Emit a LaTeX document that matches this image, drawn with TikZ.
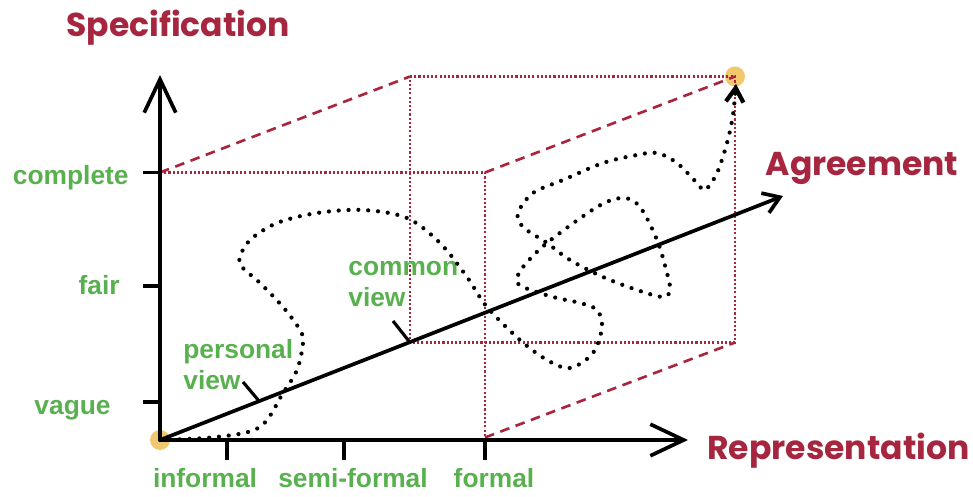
\documentclass[tikz,border=0pt]{standalone}
\usepackage{fontspec}
\setmainfont{Liberation Sans}
\newfontfamily\titlefont{Poppins}
\usetikzlibrary{arrows.meta, positioning, calc}
\definecolor{myred}{RGB}{166,38,64}
\definecolor{mygreen}{RGB}{88,176,78}
\definecolor{mydotred}{RGB}{170,36,60}
\definecolor{myorange}{RGB}{242,200,110}
\tikzset{
  axisline/.style={line width=2.1pt, -{Straight Barb[length=19pt, width=18pt]}},
  agreeline/.style={line width=2.1pt, -{Straight Barb[length=9pt, width=12pt]}},
  tickline/.style={line width=2.1pt},
  pointer/.style={line width=1.8pt},
  glabel/.style={text=mygreen, font=\fontsize{15}{17.5}\selectfont\bfseries,
    align=left, inner sep=0pt},
  axtitle/.style={text=myred, font=\titlefont\fontsize{18.8}{22}\selectfont\bfseries,
    inner sep=0pt},
  boxdot/.style={draw=mydotred, line width=1.5pt, dash pattern=on 1.2pt off 1.2pt},
  boxdash/.style={draw=mydotred, line width=1.5pt, dash pattern=on 5.5pt off 3.8pt},
  trail/.style={line width=2.4pt, line cap=round, dash pattern=on 0pt off 5.6pt,
    -{Straight Barb[length=8pt, width=10pt]}},
  marker/.style={circle, fill=myorange, minimum size=0.4cm, inner sep=0pt}
}
\begin{document}
\begin{tikzpicture}[node distance=1cm]
  \useasboundingbox (-3.2,-1.14) rectangle (16.26,8.8);

  % corners of the cube
  \coordinate (ftl) at (0,5.35);
  \coordinate (ftr) at (6.5,5.35);
  \coordinate (fbr) at (6.5,0.05);
  \coordinate (btl) at (5.0,7.27);
  \coordinate (btr) at (11.5,7.27);
  \coordinate (bbr) at (11.5,1.95);
  \coordinate (bbl) at (5.0,1.95);

  \node [marker] (o) at (0,0) {};
  \node [marker] (goal) at (btr) {};

  \draw [boxdot] (ftl) -- (ftr) -- (fbr);
  \draw [boxdot] (btl) -- (btr) -- (bbr) -- (bbl) -- cycle;
  \draw [boxdash] (ftl) -- (btl);
  \draw [boxdash] (ftr) -- (btr);
  \draw [boxdash] (fbr) -- (bbr);

  % axes
  \coordinate (ytop) at (0,7.3);
  \coordinate (xend) at (10.56,0);
  \coordinate (zend) at (12.46,4.88);
  \draw [axisline] (o.center) -- (ytop);
  \draw [axisline] (o.center) -- (xend);
  \draw [agreeline] (o.center) -- (zend);

  \foreach \y in {5.35,3.08,0.76}
    \draw [tickline] (0,\y) -- (-0.34,\y);
  \foreach \x in {1.34,3.68,6.5}
    \draw [tickline] (\x,0) -- (\x,-0.4);

  \node [glabel, anchor=east] (complete) at (-0.62,5.24) {complete};
  \node [glabel, anchor=east] (fair) at (-0.8,3.1) {fair};
  \node [glabel, anchor=east] (vague) at (-0.98,0.6) {vague};
  \node [glabel] (informal) at (0.9,-0.76) {informal};
  \node [glabel] (semiformal) at (3.86,-0.76) {semi-formal};
  \node [glabel] (formal) at (6.68,-0.76) {formal};

  \node [axtitle] (spec) at (0.36,8.24) {Specification};
  \node [axtitle] (agree) at (14.04,5.44) {Agreement};
  \node [axtitle, right=0.38cm of xend, yshift=-0.22cm] (repr) {Representation};

  % views
  \node [glabel, anchor=north west] (pview) at (0.46,2.02) {personal\\view};
  \node [glabel, anchor=north west] (cview) at (3.76,3.58) {common\\view};
  \coordinate (ptail) at (1.66,1.16);
  \coordinate (phead) at (1.98,0.78);
  \coordinate (ctail) at (4.66,2.38);
  \draw [pointer] (ptail) -- (phead);
  \draw [pointer] (ctail) -- (bbl);

  % path of the agreement
  \draw [trail] plot [smooth, tension=0.55] coordinates {
    (o.center) (1.14,0.06) (2.0,0.26) (2.46,0.94) (2.74,1.4) (2.86,1.94)
    (2.8,2.2) (2.46,2.66) (2.0,3.14) (1.64,3.46) (1.6,3.66) (1.8,4.0)
    (2.34,4.34) (3.14,4.54) (4.06,4.6) (4.94,4.44) (5.6,3.94) (6.14,3.26)
    (6.54,2.66) (7.2,2.0) (7.74,1.6) (8.2,1.44) (8.66,1.74) (8.84,2.26)
    (8.74,2.6) (8.4,2.74) (7.86,2.86) (7.26,3.06) (7.14,3.2) (7.26,3.46)
    (7.74,3.94) (8.74,4.66) (9.26,4.84) (9.6,4.66) (9.94,4.0) (10.14,3.34)
    (10.2,3.0) (10.06,2.86) (9.54,3.0) (8.86,3.26) (8.2,3.6) (7.74,3.94)
    (7.26,4.26) (7.16,4.54) (7.46,4.94) (8.06,5.2) (8.86,5.54) (9.54,5.7)
    (9.94,5.74) (10.34,5.54) (10.74,5.14) (10.9,5.0) (11.14,5.34)
    (11.34,5.94) (11.46,6.5) (11.52,7.12)};
\end{tikzpicture}
\end{document}
